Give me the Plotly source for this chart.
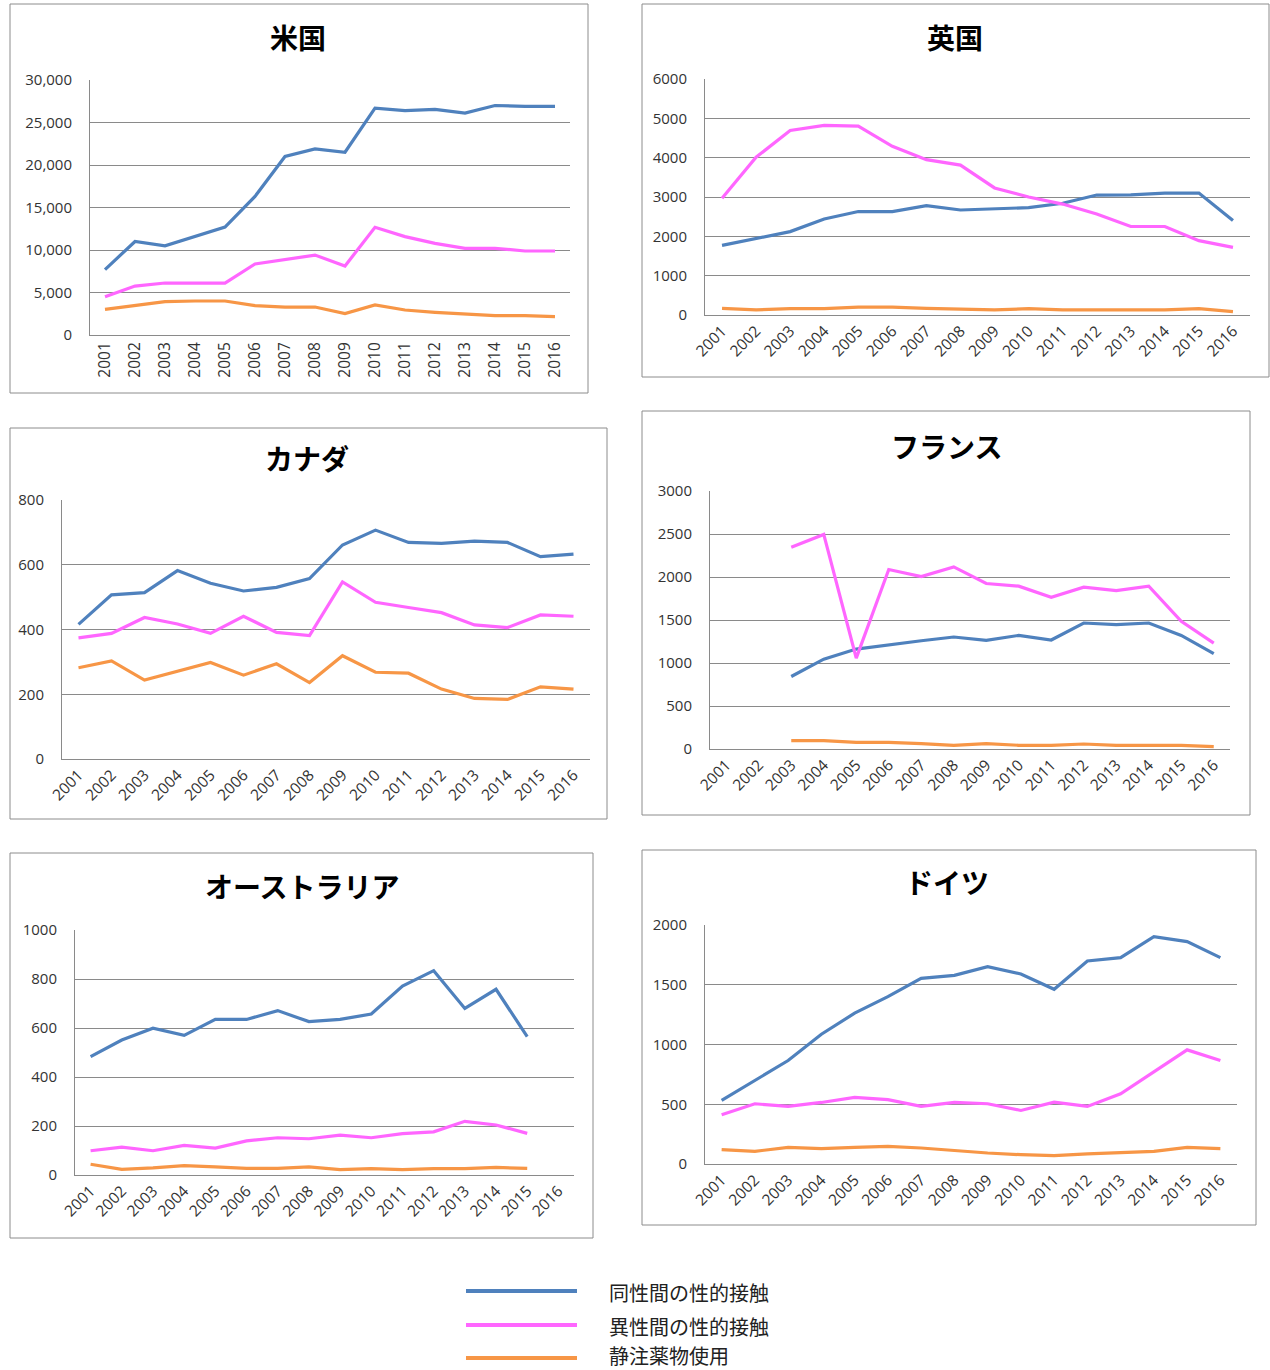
import plotly.graph_objects as go

years = [str(y) for y in range(2001, 2017)]

series_names = ["同性間の性的接触", "異性間の性的接触", "静注薬物使用"]
series_colors = ["#4F81BD", "#FF66FF", "#F79646"]

# 米国
us_msm = [7700, 11000, 10500, 11600, 12700, 16300, 21000, 21900, 21500, 26700, 26400, 26550, 26100, 27000, 26900, 26900]
us_het = [4500, 5760, 6120, 6100, 6100, 8350, 8900, 9400, 8120, 12670, 11570, 10780, 10200, 10200, 9880, 9880]
us_idu = [3020, 3450, 3920, 4000, 4000, 3450, 3290, 3290, 2510, 3530, 2940, 2670, 2470, 2270, 2270, 2160]

# 英国
uk_msm = [1770, 1940, 2120, 2440, 2630, 2630, 2780, 2670, 2710, 2730, 2840, 3050, 3056, 3100, 3100, 2400]
uk_het = [2970, 4010, 4690, 4820, 4800, 4290, 3950, 3810, 3230, 3000, 2820, 2570, 2250, 2250, 1890, 1720]
uk_idu = [170, 130, 160, 160, 200, 200, 170, 160, 130, 160, 130, 130, 130, 130, 160, 85]

# カナダ
ca_msm = [416, 507, 514, 582, 543, 519, 530, 557, 661, 707, 669, 666, 673, 669, 625, 633]
ca_het = [374, 388, 437, 417, 388, 441, 391, 381, 547, 484, 468, 452, 414, 406, 445, 441]
ca_idu = [282, 303, 244, 272, 298, 259, 294, 236, 319, 268, 265, 216, 187, 184, 223, 216]

# フランス (2001, 2002 no data)
fr_msm = [None, None, 843, 1045, 1162, 1212, 1259, 1302, 1263, 1321, 1267, 1465, 1446, 1465, 1321, 1108]
fr_het = [None, None, 2347, 2495, 1057, 2087, 2005, 2118, 1924, 1893, 1764, 1881, 1842, 1893, 1485, 1232]
fr_idu = [None, None, 97, 97, 78, 78, 62, 43, 62, 43, 43, 58, 43, 43, 43, 27]

# オーストラリア (2016 no data)
au_msm = [483, 551, 599, 570, 635, 635, 671, 626, 635, 657, 771, 834, 680, 758, 565, None]
au_het = [99, 114, 99, 121, 110, 139, 152, 148, 163, 152, 169, 176, 219, 204, 170, None]
au_idu = [44, 23, 29, 38, 33, 27, 27, 33, 22, 26, 22, 26, 26, 31, 27, None]

# ドイツ
de_msm = [532, 699, 866, 1086, 1262, 1401, 1554, 1579, 1652, 1590, 1462, 1699, 1727, 1903, 1861, 1727]
de_het = [412, 504, 482, 515, 557, 538, 482, 515, 504, 448, 518, 482, 588, 774, 955, 866]
de_idu = [120, 106, 139, 128, 139, 148, 134, 111, 92, 78, 70, 84, 92, 106, 139, 128]

W, H = 1270, 1370

panels = [
    # title, data, ymax, dtick, tickformat, tickangle, plot(L,R,T,B), box(x0,y0,x1,y1), title pos
    ("米国", (us_msm, us_het, us_idu), 30000, 5000, ",d", -90, (90, 570, 80, 335), (10, 4, 588, 393), (298, 37)),
    ("英国", (uk_msm, uk_het, uk_idu), 6000, 1000, "d", -45, (705, 1250, 79, 315), (642, 4, 1269, 377), (955, 37)),
    ("カナダ", (ca_msm, ca_het, ca_idu), 800, 200, "d", -45, (62, 590, 500, 759), (10, 428, 607, 819), (307, 458)),
    ("フランス", (fr_msm, fr_het, fr_idu), 3000, 500, "d", -45, (710, 1230, 491, 749), (642, 411, 1250, 815), (946, 446)),
    ("オーストラリア", (au_msm, au_het, au_idu), 1000, 200, "d", -45, (75, 574, 930, 1175), (10, 853, 593, 1238), (302, 886)),
    ("ドイツ", (de_msm, de_het, de_idu), 2000, 500, "d", -45, (705, 1237, 925, 1164), (642, 850, 1256, 1225), (947, 882)),
]

fig = go.Figure()
shapes = []
annotations = []
layout_axes = {}

ytick_font = dict(family="Open Sans, Lato, sans-serif", size=15, color="#333333")
xtick_font = dict(family="Open Sans, Lato, sans-serif", size=15.5, color="#333333")
grid_color = "#8a8a8a"

for i, (title, data, ymax, dtick, tfmt, tang, plot, box, tpos) in enumerate(panels):
    n = i + 1
    xa = "x" if n == 1 else f"x{n}"
    ya = "y" if n == 1 else f"y{n}"
    L, R, T, B = plot
    for vals, name, col in zip(data, series_names, series_colors):
        fig.add_trace(go.Scatter(
            x=years, y=vals, mode="lines", name=name,
            line=dict(color=col, width=3.2), showlegend=False,
            xaxis=xa, yaxis=ya, connectgaps=False,
        ))
    layout_axes[f"xaxis{'' if n == 1 else n}"] = dict(
        domain=[L / W, R / W], anchor=ya, type="category",
        categoryorder="array", categoryarray=years,
        range=[-0.5, 15.5], showgrid=False, zeroline=False,
        showline=True, linecolor=grid_color, linewidth=1,
        ticks="", tickangle=tang, tickfont=xtick_font, fixedrange=True,
        automargin=False,
    )
    layout_axes[f"yaxis{'' if n == 1 else n}"] = dict(
        domain=[1 - B / H, 1 - T / H], anchor=xa,
        range=[0, ymax], dtick=dtick, tick0=0, tickformat=tfmt,
        showgrid=True, gridcolor=grid_color, gridwidth=1,
        zeroline=False, showline=True, linecolor=grid_color, linewidth=1,
        ticks="", ticklabelstandoff=14, tickfont=ytick_font, fixedrange=True,
        automargin=False,
    )
    bx0, by0, bx1, by1 = box
    shapes.append(dict(type="rect", xref="paper", yref="paper",
                       x0=bx0 / W, x1=bx1 / W, y0=1 - by1 / H, y1=1 - by0 / H,
                       line=dict(color="#8c8c8c", width=1), layer="below"))
    annotations.append(dict(text=f"<b>{title}</b>", xref="paper", yref="paper",
                            x=tpos[0] / W, y=1 - tpos[1] / H, xanchor="center", yanchor="middle",
                            showarrow=False,
                            font=dict(family="Noto Sans CJK JP", size=28, color="#000000")))

# Legend (drawn manually to match long line samples)
leg_line_y = [1291, 1325, 1358]
leg_text_y = [1292, 1326, 1355]
for name, col, ly, ty in zip(series_names, series_colors, leg_line_y, leg_text_y):
    shapes.append(dict(type="line", xref="paper", yref="paper",
                       x0=466 / W, x1=577 / W, y0=1 - ly / H, y1=1 - ly / H,
                       line=dict(color=col, width=4)))
    annotations.append(dict(text=name, xref="paper", yref="paper",
                            x=607 / W, y=1 - ty / H, xanchor="left", yanchor="middle",
                            showarrow=False,
                            font=dict(family="Noto Sans CJK JP", size=20, color="#222222")))

fig.update_layout(
    width=W, height=H,
    margin=dict(l=0, r=0, t=0, b=0, pad=0, autoexpand=False),
    paper_bgcolor="white", plot_bgcolor="white",
    shapes=shapes, annotations=annotations,
    showlegend=False,
    **layout_axes,
)

fig.write_html(
    "out.html",
    config={"displayModeBar": False},
    post_script="document.body.style.margin='0px';document.body.style.padding='0px';",
)
